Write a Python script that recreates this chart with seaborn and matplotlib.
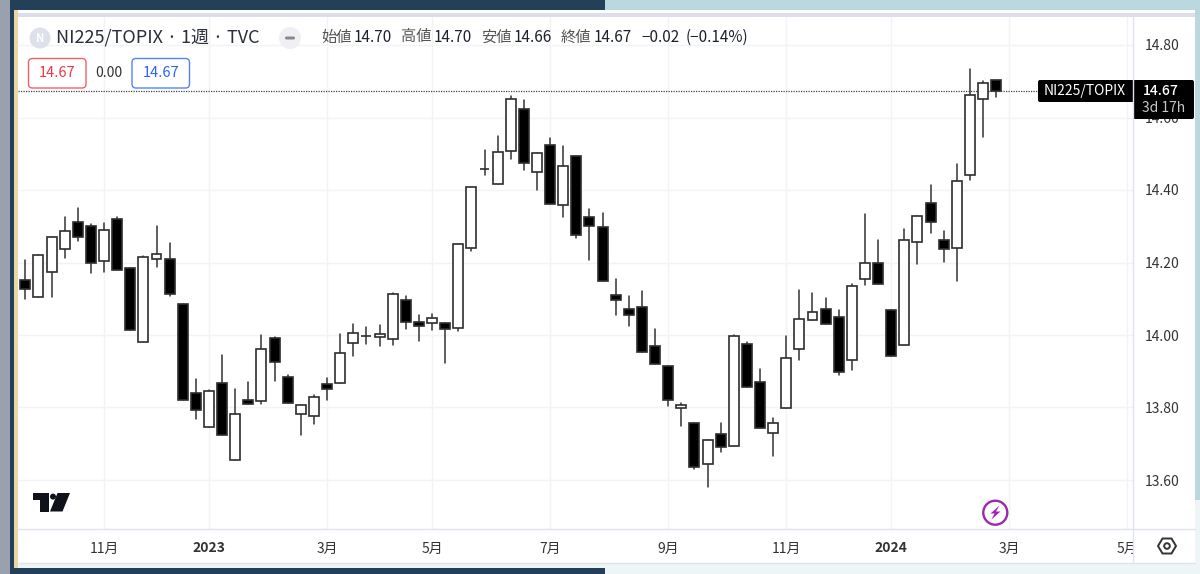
import matplotlib

matplotlib.use("Agg")

import matplotlib.pyplot as plt
import pandas as pd
import seaborn as sns
from matplotlib.patches import Circle, FancyBboxPatch, Polygon, Rectangle


# weekly candles
open_prices = [
    14.151, 14.105, 14.173, 14.237, 14.313, 14.302, 14.204, 14.319, 14.185, 13.978,
    14.209, 14.210, 14.085, 13.837, 13.743, 13.865, 13.650, 13.817, 13.814, 13.990,
    13.881, 13.778, 13.773, 13.861, 13.864, 13.976, 13.994, 13.993, 13.988, 14.094,
    14.033, 14.031, 14.032, 14.018, 14.239, 14.458, 14.417, 14.509, 14.626, 14.452,
    14.527, 14.360, 14.494, 14.327, 14.299, 14.108, 14.069, 14.077, 13.967, 13.912,
    13.795, 13.755, 13.639, 13.723, 13.691, 13.974, 13.867, 13.727, 13.794, 13.959,
    14.039, 14.071, 14.048, 13.928, 14.155, 14.197, 14.067, 13.971, 14.257, 14.364,
    14.262, 14.239, 14.442, 14.655, 14.705,
]
high_prices = [
    14.206, 14.219, 14.271, 14.325, 14.352, 14.307, 14.309, 14.327, 14.185, 14.217,
    14.300, 14.254, 14.085, 13.877, 13.846, 13.942, 13.849, 13.867, 13.997, 13.992,
    13.888, 13.803, 13.832, 13.879, 14.001, 14.030, 14.019, 14.026, 14.116, 14.106,
    14.055, 14.056, 14.032, 14.251, 14.408, 14.511, 14.550, 14.662, 14.650, 14.503,
    14.545, 14.522, 14.494, 14.347, 14.336, 14.155, 14.106, 14.119, 14.014, 13.912,
    13.810, 13.755, 13.706, 13.755, 13.997, 13.979, 13.904, 13.767, 13.994, 14.124,
    14.115, 14.100, 14.067, 14.141, 14.334, 14.263, 14.067, 14.292, 14.329, 14.416,
    14.287, 14.474, 14.738, 14.703, 14.705,
]
low_prices = [
    14.099, 14.105, 14.105, 14.212, 14.258, 14.169, 14.172, 14.180, 14.013, 13.978,
    14.186, 14.107, 13.817, 13.766, 13.743, 13.719, 13.650, 13.806, 13.806, 13.871,
    13.808, 13.719, 13.752, 13.818, 13.864, 13.940, 13.972, 13.967, 13.970, 14.016,
    13.981, 14.013, 13.919, 14.009, 14.232, 14.442, 14.417, 14.488, 14.457, 14.402,
    14.362, 14.326, 14.267, 14.207, 14.149, 14.054, 14.022, 13.950, 13.918, 13.802,
    13.746, 13.625, 13.577, 13.674, 13.691, 13.855, 13.741, 13.661, 13.794, 13.930,
    14.039, 14.030, 13.887, 13.901, 14.138, 14.139, 13.941, 13.971, 14.195, 14.281,
    14.201, 14.147, 14.430, 14.549, 14.660,
]
close_prices = [
    14.125, 14.219, 14.271, 14.287, 14.270, 14.198, 14.289, 14.180, 14.013, 14.215,
    14.224, 14.112, 13.817, 13.791, 13.843, 13.719, 13.778, 13.806, 13.959, 13.922,
    13.808, 13.803, 13.826, 13.849, 13.947, 14.003, 13.995, 14.000, 14.113, 14.034,
    14.023, 14.045, 14.016, 14.251, 14.408, 14.459, 14.505, 14.655, 14.476, 14.503,
    14.362, 14.467, 14.277, 14.300, 14.149, 14.095, 14.055, 13.950, 13.918, 13.818,
    13.805, 13.631, 13.706, 13.686, 13.994, 13.855, 13.741, 13.753, 13.933, 14.042,
    14.061, 14.030, 13.896, 14.135, 14.197, 14.139, 13.941, 14.262, 14.329, 14.313,
    14.237, 14.427, 14.666, 14.697, 14.676,
]

last_price = 14.675
# grid levels as read against the candles, with the labels the axis prints
price_ticks = [13.595, 13.797, 13.998, 14.199, 14.401, 14.602, 14.804]
price_labels = ["13.60", "13.80", "14.00", "14.20", "14.40", "14.60", "14.80"]
month_bars = [6, 14, 23, 31, 40, 49, 58, 66, 75, 84]
month_labels = ["11月", "2023", "3月", "5月", "7月", "9月", "11月", "2024", "3月", "5月"]

JP_FONT = ["Noto Sans CJK JP", "DejaVu Sans"]
WIDTH, HEIGHT = 1200, 574

# pixel frame of the price pane
PANE_L, PANE_R, PANE_T, PANE_B = 18, 1133, 17, 529
BAR0_X, BAR_STEP = 25.3, 13.12
PRICE_Y0, PX_PER_UNIT = 334.3, 360.0


def px_axes(fig, zorder):
    ax = fig.add_axes([0, 0, 1, 1], zorder=zorder)
    ax.set_xlim(0, WIDTH)
    ax.set_ylim(HEIGHT, 0)
    ax.axis("off")
    ax.patch.set_alpha(0)
    return ax


def draw_bodies(ax, df, fill):
    sns.barplot(
        x=df["bar"], y=df["body"], bottom=df["bottom"].to_numpy(),
        native_scale=True, color=fill, saturation=1, width=0.76, gap=0,
        errorbar=None, edgecolor="#2e2e2e", linewidth=1.2, zorder=3, ax=ax,
    )


def draw_background(bg):
    bg.add_patch(Rectangle((0, 0), WIDTH, HEIGHT, color="#edf5f7", lw=0))
    bg.add_patch(Rectangle((605, 0), 595, 12, color="#bcd8df", lw=0))
    bg.add_patch(Rectangle((1195, 0), 5, 500, color="#bcd8df", lw=0))
    bg.add_patch(Rectangle((10, 0), 595, 10, color="#244058", lw=0))
    bg.add_patch(Rectangle((10, 568), 595, 6, color="#244058", lw=0))
    bg.add_patch(Rectangle((0, 0), 10, HEIGHT, color="#99a1ae", lw=0))
    bg.add_patch(Rectangle((10, 0), 3.5, HEIGHT, color="#244058", lw=0))
    bg.add_patch(Rectangle((13.5, 10), 4.5, 558, color="#e9d8a6", lw=0))
    bg.add_patch(Rectangle((18, 10), 1177, 553, color="white", lw=0))
    bg.add_patch(Rectangle((18, 13), 1177, 4, color="#dcdfea", lw=0))


def draw_overlay(top):
    # axis frame
    top.add_patch(Rectangle((PANE_R, 530), 62, 33, color="white", lw=0))
    top.plot([PANE_L, 1195], [PANE_B, PANE_B], color="#e0e3eb", lw=1)
    top.plot([PANE_L, 1195], [563, 563], color="#e0e3eb", lw=1)
    top.plot([PANE_R, PANE_R], [PANE_T, 563], color="#e0e3eb", lw=1)

    # header
    top.add_patch(Circle((40, 38), 10.5, color="#dfe1ea", lw=0))
    top.text(40, 38, "N", color="white", fontsize=8, fontweight="bold", ha="center", va="center")
    top.text(56, 38, "NI225/TOPIX · 1週 · TVC", color="#2a2e39", fontsize=13, va="center")
    top.add_patch(Circle((290, 38), 11, color="#f0f0f3", lw=0))
    top.add_patch(FancyBboxPatch((285, 36.5), 10, 3, boxstyle="round,pad=0,rounding_size=1.5",
                                 color="#868a96", lw=0))

    header_items = [
        (321, "始値", "#555555"), (354, "14.70", "#1e222d"),
        (401, "高値", "#555555"), (434, "14.70", "#1e222d"),
        (481, "安値", "#555555"), (514, "14.66", "#1e222d"),
        (561, "終値", "#555555"), (594, "14.67", "#1e222d"),
        (641, "−0.02", "#1e222d"), (686, "(−0.14%)", "#1e222d"),
    ]
    for x, label, color in header_items:
        top.text(x, 37, label, color=color, fontsize=11, va="center")

    # bid / ask boxes
    for x0, color in [(28.5, "#f23645"), (132, "#2962ff")]:
        top.add_patch(FancyBboxPatch((x0, 58.5), 57.5, 29.5, boxstyle="round,pad=0,rounding_size=4",
                                     facecolor="white", edgecolor=color, alpha=0.8, lw=1))
        top.text(x0 + 28.7, 73, "14.67", color=color, fontsize=10.5, ha="center", va="center")
    top.text(109, 73, "0.00", color="#333333", fontsize=10, ha="center", va="center")

    # last price tags
    top.add_patch(FancyBboxPatch((1038, 80), 96, 22, boxstyle="round,pad=0,rounding_size=2",
                                 color="black", lw=0))
    top.add_patch(FancyBboxPatch((1133, 80), 61, 39, boxstyle="round,pad=0,rounding_size=2",
                                 color="black", lw=0))
    top.text(1085, 91, "NI225/TOPIX", color="white", fontsize=10, ha="center", va="center")
    top.text(1161, 91, "14.67", color="white", fontsize=10, fontweight="medium", ha="center", va="center")
    top.text(1164, 108.5, "3d 17h", color="#c8c8c8", fontsize=10, ha="center", va="center")

    # logo
    top.add_patch(Polygon([(33, 493), (49, 493), (49, 511.5), (40, 511.5), (40, 500), (33, 500)],
                          color="#0f1219", lw=0))
    top.add_patch(Circle((53, 496.6), 3.0, color="#0f1219", lw=0))
    top.add_patch(Polygon([(57.5, 493), (70, 493), (62.5, 511.5), (50, 511.5)],
                          color="#0f1219", lw=0))

    # lightning mark
    top.add_patch(Circle((995.3, 512.7), 12, facecolor="white", edgecolor="#9c27b0", lw=1.7))
    top.add_patch(Polygon([(999.5, 505.5), (990.5, 513.5), (994.5, 513.5), (991.5, 519.5), (1000.5, 511.5), (996, 511.5)],
                          color="#9c27b0", lw=0))

    # settings hexagon
    top.add_patch(Polygon([(1158, 546), (1162.5, 538.5), (1171.5, 538.5), (1176, 546), (1171.5, 553.5), (1162.5, 553.5)],
                          fill=False, edgecolor="#333333", lw=1.4))
    top.add_patch(Circle((1167, 546), 2.8, fill=False, edgecolor="#333333", lw=1.4))


def main():
    sns.set_theme(style="white")
    plt.rcParams["font.family"] = JP_FONT

    df = pd.DataFrame({
        "bar": range(len(open_prices)),
        "open": open_prices,
        "high": high_prices,
        "low": low_prices,
        "close": close_prices,
    })
    df["bottom"] = df[["open", "close"]].min(axis=1)
    df["body"] = (df["close"] - df["open"]).abs()
    rising = df["close"] >= df["open"]

    wicks = df.melt(id_vars="bar", value_vars=["high", "low"], value_name="price")

    fig = plt.figure(figsize=(WIDTH / 100, HEIGHT / 100), dpi=100)
    bg = px_axes(fig, 0)
    draw_background(bg)

    ax = fig.add_axes([
        PANE_L / WIDTH, 1 - PANE_B / HEIGHT,
        (PANE_R - PANE_L) / WIDTH, (PANE_B - PANE_T) / HEIGHT,
    ], zorder=1)
    ax.patch.set_alpha(0)

    sns.lineplot(
        data=wicks, x="bar", y="price", units="bar", estimator=None,
        color="#333333", linewidth=1.1, zorder=2.5, ax=ax,
    )
    draw_bodies(ax, df[rising], "white")
    draw_bodies(ax, df[~rising], "black")
    ax.axhline(last_price, color="#444444", lw=0.9, ls=(0, (1, 1)), zorder=2)

    ax.set_xlim((PANE_L - BAR0_X) / BAR_STEP, (PANE_R - BAR0_X) / BAR_STEP)
    ax.set_ylim(14 + (PRICE_Y0 - PANE_B) / PX_PER_UNIT, 14 + (PRICE_Y0 - PANE_T) / PX_PER_UNIT)

    ax.set_xticks(month_bars, month_labels)
    for label, text in zip(ax.get_xticklabels(), month_labels):
        bold = text.isdigit()
        label.set_fontweight("bold" if bold else "normal")
        label.set_color("#1e222d" if bold else "#444444")
        label.set_fontsize(10)
    ax.set_yticks(price_ticks, price_labels)
    ax.yaxis.tick_right()
    ax.tick_params(axis="both", length=0, colors="#333333")
    ax.tick_params(axis="x", pad=9)
    ax.tick_params(axis="y", labelsize=10, pad=8.5)
    ax.grid(True, color="#f2f3f5", lw=1)
    ax.set_axisbelow(True)
    ax.set_xlabel("")
    ax.set_ylabel("")
    sns.despine(ax=ax, left=True, bottom=True, right=True, top=True)

    top = px_axes(fig, 5)
    draw_overlay(top)

    fig.savefig("out.png", dpi=100)
    plt.close(fig)


if __name__ == "__main__":
    main()
